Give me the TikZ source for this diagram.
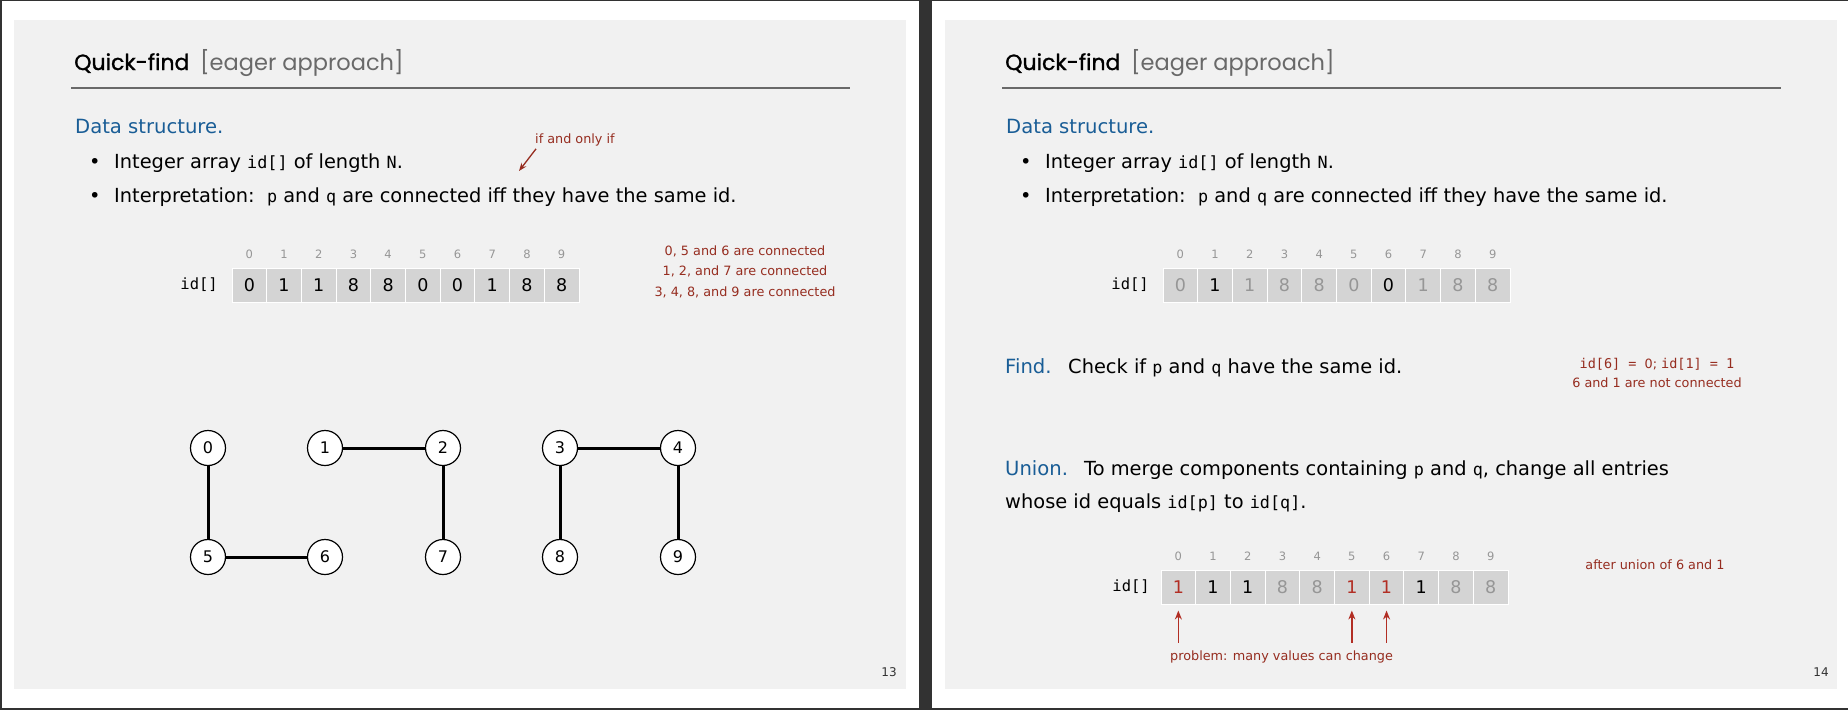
\documentclass[tikz,border=0pt]{standalone}
\usepackage{fontspec}
\setmainfont{DejaVu Sans}
\setmonofont{DejaVu Sans Mono}
\newfontfamily\titlefont[FakeBold=1.2]{Poppins}
\newfontfamily\subfont{Poppins}
\usetikzlibrary{arrows.meta, positioning}

\definecolor{slidebg}{RGB}{241,241,241}
\definecolor{cellgray}{RGB}{212,212,212}
\definecolor{headblue}{RGB}{25,93,150}
\definecolor{notered}{RGB}{150,45,32}
\definecolor{arrowred}{RGB}{178,46,36}
\definecolor{idxgray}{RGB}{150,150,150}
\definecolor{subgray}{RGB}{105,105,105}
\definecolor{framedark}{RGB}{50,50,50}

\newcommand{\codetxt}[1]{{\ttfamily\fontsize{16.8}{20}\selectfont #1}}
\newcommand{\notett}[1]{{\ttfamily\fontsize{13.5}{16}\selectfont #1}}

\begin{document}
\begin{tikzpicture}[
    x=1pt, y=-1pt,
    slidetitle/.style={font=\titlefont\fontsize{22}{26}\selectfont, anchor=base west, inner sep=0pt},
    titlesub/.style={font=\subfont\fontsize{22.5}{26}\selectfont, text=subgray, anchor=base west, inner sep=0pt},
    head/.style={font=\fontsize{19.6}{24}\selectfont, text=headblue, anchor=base west, inner sep=0pt},
    body/.style={font=\fontsize{19.4}{24}\selectfont, anchor=base west, inner sep=0pt},
    note/.style={font=\fontsize{12.8}{15}\selectfont, text=notered, inner sep=0pt},
    idx/.style={font=\fontsize{11.5}{13}\selectfont, text=idxgray, inner sep=0pt},
    arrlabel/.style={font=\ttfamily\fontsize{15.5}{19}\selectfont, anchor=east, inner sep=0pt},
    cell/.style={fill=cellgray, draw=white, line width=1pt, minimum width=34.7pt,
                 minimum height=34pt, inner sep=0pt, font=\fontsize{17.5}{20}\selectfont},
    vertex/.style={circle, draw, line width=1.2pt, fill=white, minimum size=35pt,
                   inner sep=0pt, font=\fontsize{16}{18}\selectfont},
    link/.style={line width=3pt},
    rulebar/.style={draw=subgray, line width=2pt},
    redarr/.style={-{Stealth[length=9pt, width=7pt]}, draw=arrowred, line width=1.5pt},
    pagenum/.style={font=\fontsize{12}{14}\selectfont, text=framedark, inner sep=0pt}
]
\useasboundingbox (0,0) rectangle (1848,710);

% page frame and the two slides
\fill[white] (0,0) rectangle (1848,710);
\fill[framedark] (0,0) rectangle (2,710);
\fill[framedark] (0,0) rectangle (1848,1);
\fill[framedark] (0,708) rectangle (1848,710);
\fill[framedark] (919,0) rectangle (932,710);
\fill[slidebg] (14,20) rectangle (906,689);
\fill[slidebg] (945,20) rectangle (1837,689);

%% slide 13
\node[slidetitle] (title1) at (74,70)  {Quick-find};
\node[titlesub]   (sub1)   at (200,70) {[eager approach]};
\coordinate (r1a) at (71,88);
\coordinate (r1b) at (850,88);
\draw[rulebar] (r1a) -- (r1b);

\node[head] (ds1) at (75,133) {Data structure.};
\node[body] (b11) at (89,168) {\makebox[25pt][l]{\textbullet}Integer array \codetxt{id[]} of length \codetxt{N}.};
\node[body] (b12) at (89,202) {\makebox[25pt][l]{\textbullet}Interpretation:\ \ \codetxt{p} and \codetxt{q} are connected iff they have the same id.};

\node[note, anchor=base west] (iff) at (535,143) {if and only if};
\coordinate (ifftip) at (519,171);
\draw[-{Stealth[length=8pt, width=6pt]}, draw=notered, line width=1.3pt] ([xshift=1pt, yshift=-3pt]iff.south west) -- (ifftip);

\node[arrlabel] (lab1) at (218,285) {id[]};
\foreach \v [count=\i from 0] in {0,1,1,8,8,0,0,1,8,8} {
    \node[cell] (a\i) at (249.35+34.7*\i,285) {\v};
    \node[idx]  (ai\i) at (249.35+34.7*\i,254) {\i};
}
\node[note] (c056)  at (745,251) {0, 5 and 6 are connected};
\node[note] (c127)  at (745,271) {1, 2, and 7 are connected};
\node[note] (c3489) at (745,292) {3, 4, 8, and 9 are connected};

% components
\node[vertex] (v0) at (208,448) {0};
\node[vertex] (v1) at (325,448) {1};
\node[vertex] (v2) at (443,448) {2};
\node[vertex] (v3) at (560,448) {3};
\node[vertex] (v4) at (678,448) {4};
\node[vertex] (v5) at (208,557) {5};
\node[vertex] (v6) at (325,557) {6};
\node[vertex] (v7) at (443,557) {7};
\node[vertex] (v8) at (560,557) {8};
\node[vertex] (v9) at (678,557) {9};
\draw[link] (v0) -- (v5);
\draw[link] (v5) -- (v6);
\draw[link] (v1) -- (v2);
\draw[link] (v2) -- (v7);
\draw[link] (v3) -- (v4);
\draw[link] (v3) -- (v8);
\draw[link] (v4) -- (v9);

\node[pagenum] (pg1) at (889,672) {13};

%% slide 14
\node[slidetitle] (title2) at (1005,70) {Quick-find};
\node[titlesub]   (sub2)   at (1131,70) {[eager approach]};
\coordinate (r2a) at (1002,88);
\coordinate (r2b) at (1781,88);
\draw[rulebar] (r2a) -- (r2b);

\node[head] (ds2) at (1006,133) {Data structure.};
\node[body] (b21) at (1020,168) {\makebox[25pt][l]{\textbullet}Integer array \codetxt{id[]} of length \codetxt{N}.};
\node[body] (b22) at (1020,202) {\makebox[25pt][l]{\textbullet}Interpretation:\ \ \codetxt{p} and \codetxt{q} are connected iff they have the same id.};

\node[arrlabel] (lab2) at (1149,285) {id[]};
\foreach \v/\c [count=\i from 0] in {0/idxgray,1/black,1/idxgray,8/idxgray,8/idxgray,0/idxgray,0/black,1/idxgray,8/idxgray,8/idxgray} {
    \node[cell, text=\c] (b\i) at (1180.35+34.7*\i,285) {\v};
    \node[idx] (bi\i) at (1180.35+34.7*\i,254) {\i};
}

\node[head] (find) at (1005,373) {Find.};
\node[body] (findtxt) at (1068,373) {Check if \codetxt{p} and \codetxt{q} have the same id.};
\node[note] (fn1) at (1657,364) {\notett{id[6] = }0; \notett{id[1] = 1}};
\node[note] (fn2) at (1657,383) {6 and 1 are not connected};

\node[head] (union) at (1005,475) {Union.};
\node[body] (untxt1) at (1084,475) {To merge components containing \codetxt{p} and \codetxt{q}, change all entries};
\node[body] (untxt2) at (1005,508) {whose id equals \codetxt{id[p]} to \codetxt{id[q]}.};

\node[arrlabel] (lab3) at (1150,587) {id[]};
\foreach \v/\c [count=\i from 0] in {1/arrowred,1/black,1/black,8/idxgray,8/idxgray,1/arrowred,1/arrowred,1/black,8/idxgray,8/idxgray} {
    \node[cell, text=\c] (c\i) at (1178.35+34.7*\i,587) {\v};
    \node[idx] (ci\i) at (1178.35+34.7*\i,556) {\i};
}
\node[note] (after) at (1655,565) {after union of 6 and 1};
\node[note, anchor=west] (problem) at (1170,657) {problem: many values can change};

\foreach \i in {0,5,6} {
    \coordinate (p\i) at ([yshift=-38pt]c\i.south);
    \draw[redarr] (p\i) -- ([yshift=-6pt]c\i.south);
}

\node[pagenum] (pg2) at (1821,672) {14};
\end{tikzpicture}
\end{document}
